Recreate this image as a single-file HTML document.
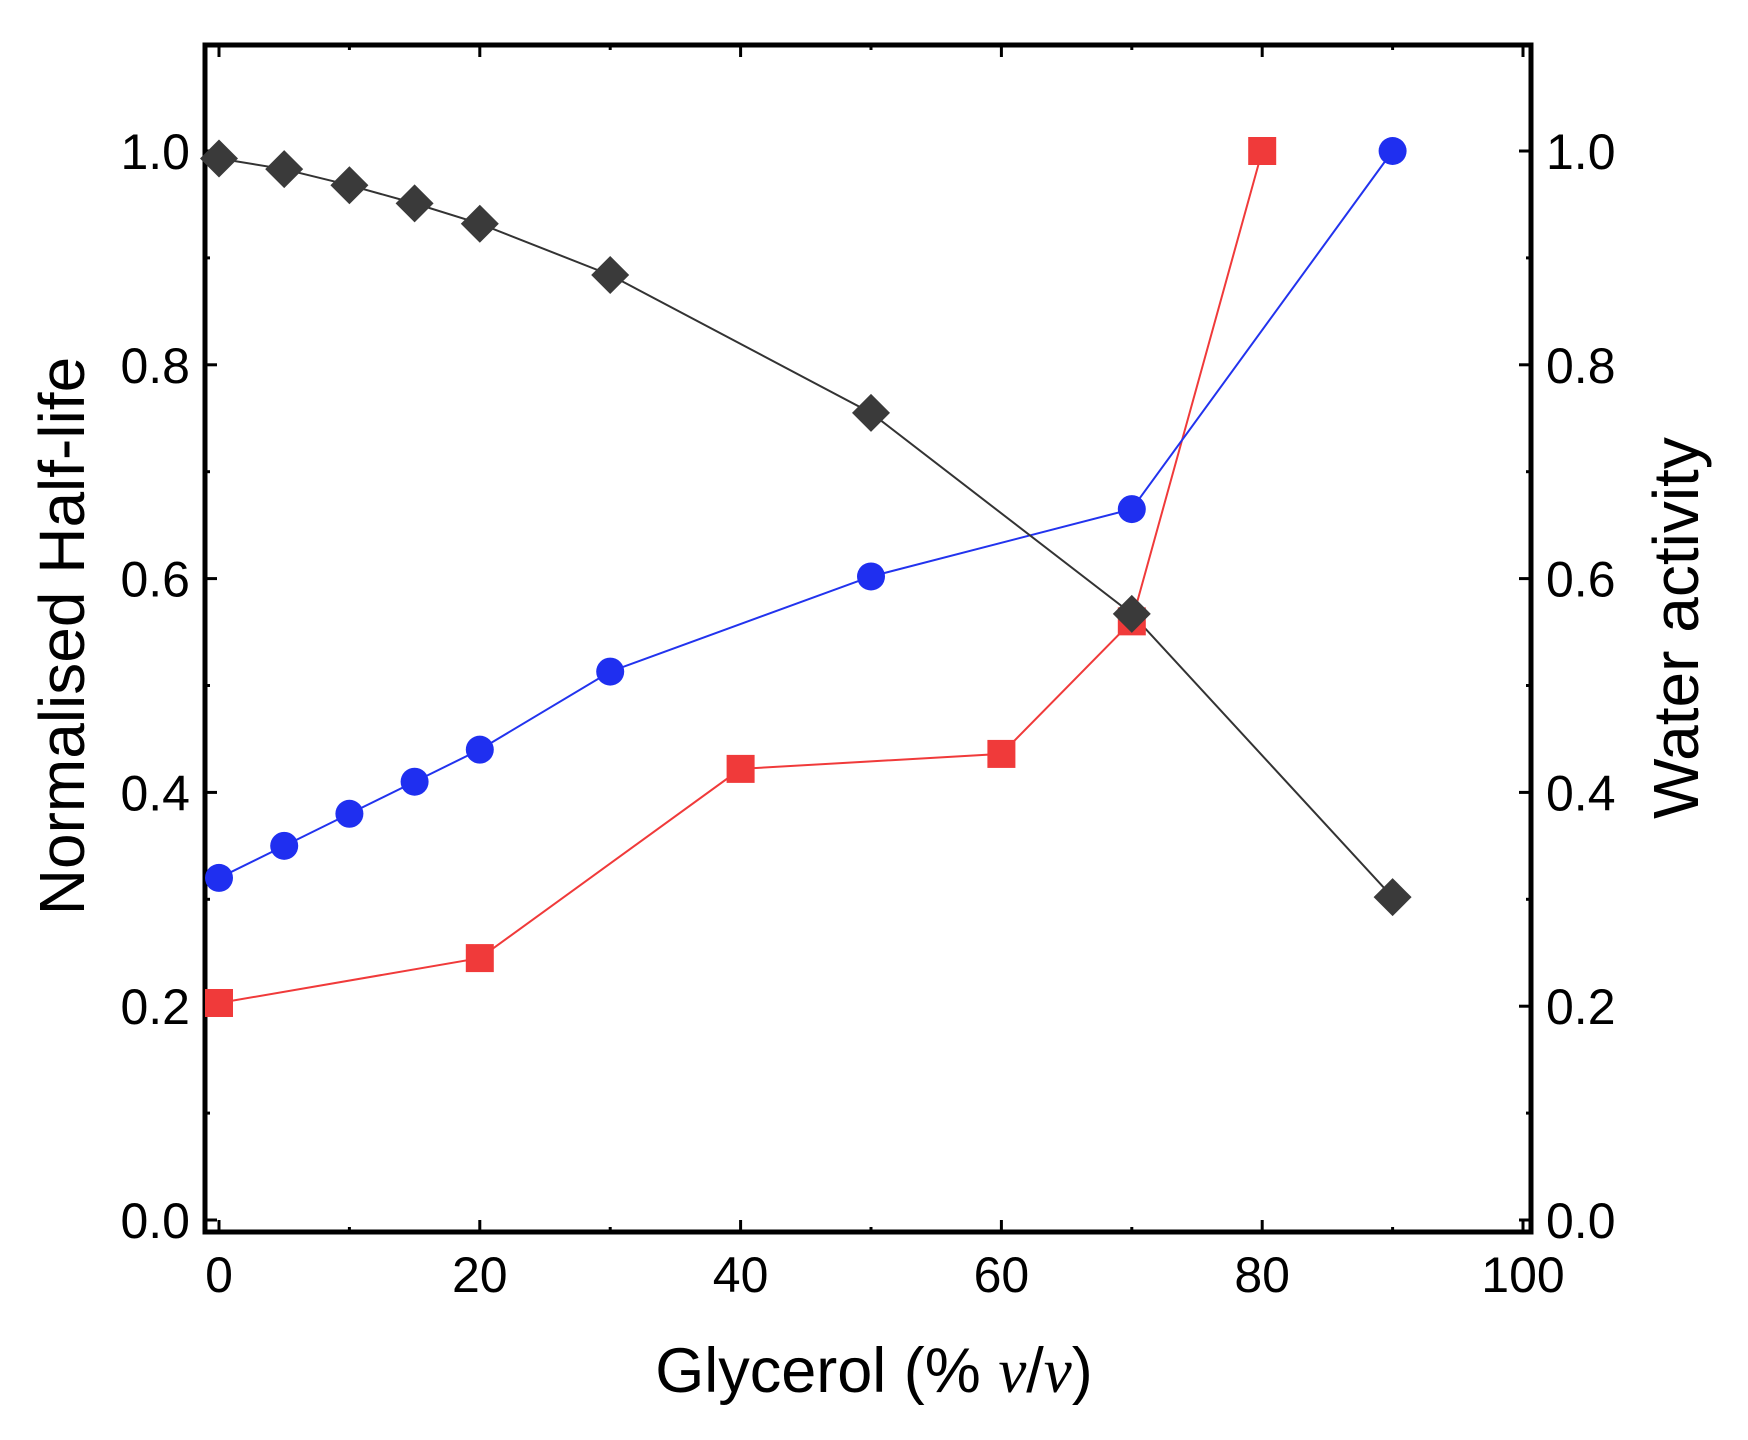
<!DOCTYPE html>
<html><head><meta charset="utf-8"><style>
html,body{margin:0;padding:0;background:#fff;}
svg{display:block;font-family:"Liberation Sans",Arial,sans-serif;}
</style></head><body>
<svg id="chart" width="1748" height="1440" viewBox="0 0 1748 1440" xmlns="http://www.w3.org/2000/svg">
<g id="axes"></g>
<g id="series"></g>
<text x="0" y="0" transform="translate(84,636) rotate(-90)" text-anchor="middle" font-size="64">Normalised Half-life</text>
<text x="0" y="0" transform="translate(1698,628) rotate(-90)" text-anchor="middle" font-size="64">Water activity</text>
<text x="874" y="1392" text-anchor="middle" font-size="63">Glycerol (% <tspan font-family="Liberation Serif,serif" font-style="italic">v</tspan>/<tspan font-family="Liberation Serif,serif" font-style="italic">v</tspan>)</text>
</svg>
<script>
const xTicks = [0,20,40,60,80,100];
const yTicks = [0.0,0.2,0.4,0.6,0.8,1.0];
const yTickLabels = ["0.0","0.2","0.4","0.6","0.8","1.0"];
const halfLifeX = [0,5,10,15,20,30,50,70,90];
const halfLifeY = [0.993,0.983,0.968,0.951,0.932,0.884,0.755,0.567,0.302];
const blueX = [0,5,10,15,20,30,50,70,90];
const blueY = [0.32,0.35,0.38,0.41,0.44,0.513,0.602,0.665,1.0];
const redX = [0,20,40,60,70,80];
const redY = [0.203,0.245,0.422,0.436,0.56,1.0];

const NS="http://www.w3.org/2000/svg";
const X0=219, XS=13.04, Y0=1220, YS=1069;
function sx(v){return X0+v*XS;}
function sy(v){return Y0-v*YS;}
const L=205,R=1531,T=45,B=1232;
function mk(tag,attrs,parent){const e=document.createElementNS(NS,tag);for(const k in attrs)e.setAttribute(k,attrs[k]);parent.appendChild(e);return e;}
const axes=document.getElementById('axes');
const frame=mk('rect',{x:L,y:T,width:R-L,height:B-T,fill:'none',stroke:'#000','stroke-width':5},axes);


for(let v=0;v<=100;v+=10){
  const major=v%20===0, len=major?12:5;
  const t1=mk('line',{x1:sx(v),x2:sx(v),y1:B,y2:B-len,stroke:'#000','stroke-width':3},axes);
  
  
  const t2=mk('line',{x1:sx(v),x2:sx(v),y1:T,y2:T+len,stroke:'#000','stroke-width':3},axes);
  
  
}
xTicks.forEach(v=>{
  const t=mk('text',{x:sx(v),y:1292,'text-anchor':'middle','font-size':50},axes);
  t.textContent=String(v);
  
  
});
for(let i=0;i<=10;i++){
  const v=i*0.1, major=i%2===0, len=major?12:5;
  const a=mk('line',{x1:L,x2:L+len,y1:sy(v),y2:sy(v),stroke:'#000','stroke-width':3},axes);
  
  
  const b=mk('line',{x1:R,x2:R-len,y1:sy(v),y2:sy(v),stroke:'#000','stroke-width':3},axes);
  
  
}
yTicks.forEach((v,i)=>{
  const a=mk('text',{x:190,y:sy(v)+18,'text-anchor':'end','font-size':50},axes);
  a.textContent=yTickLabels[i];
  
  
  const b=mk('text',{x:1546,y:sy(v)+18,'text-anchor':'start','font-size':50},axes);
  b.textContent=yTickLabels[i];
  
  
});
const series=document.getElementById('series');
function line(xs,ys,color,name){
  const p=mk('polyline',{points:xs.map((x,i)=>sx(x)+','+sy(ys[i])).join(' '),fill:'none',stroke:color,'stroke-width':2},series);
  
  
}
line(redX,redY,'#f03a3a','red-series-line');
line(blueX,blueY,'#2233ee','blue-series-line');
line(halfLifeX,halfLifeY,'#333','half-life-line');
redX.forEach((x,i)=>{
  const r=mk('rect',{x:sx(x)-14,y:sy(redY[i])-14,width:28,height:28,fill:'#f03a3a'},series);
  
  
});
blueX.forEach((x,i)=>{
  const c=mk('circle',{cx:sx(x),cy:sy(blueY[i]),r:14,fill:'#1f2ff0'},series);
  
  
});
halfLifeX.forEach((x,i)=>{
  const cx=sx(x),cy=sy(halfLifeY[i]),d=19;
  const p=mk('polygon',{points:`${cx},${cy-d} ${cx+d},${cy} ${cx},${cy+d} ${cx-d},${cy}`,fill:'#3a3a3a'},series);
  
  
});
</script>
</body></html>
